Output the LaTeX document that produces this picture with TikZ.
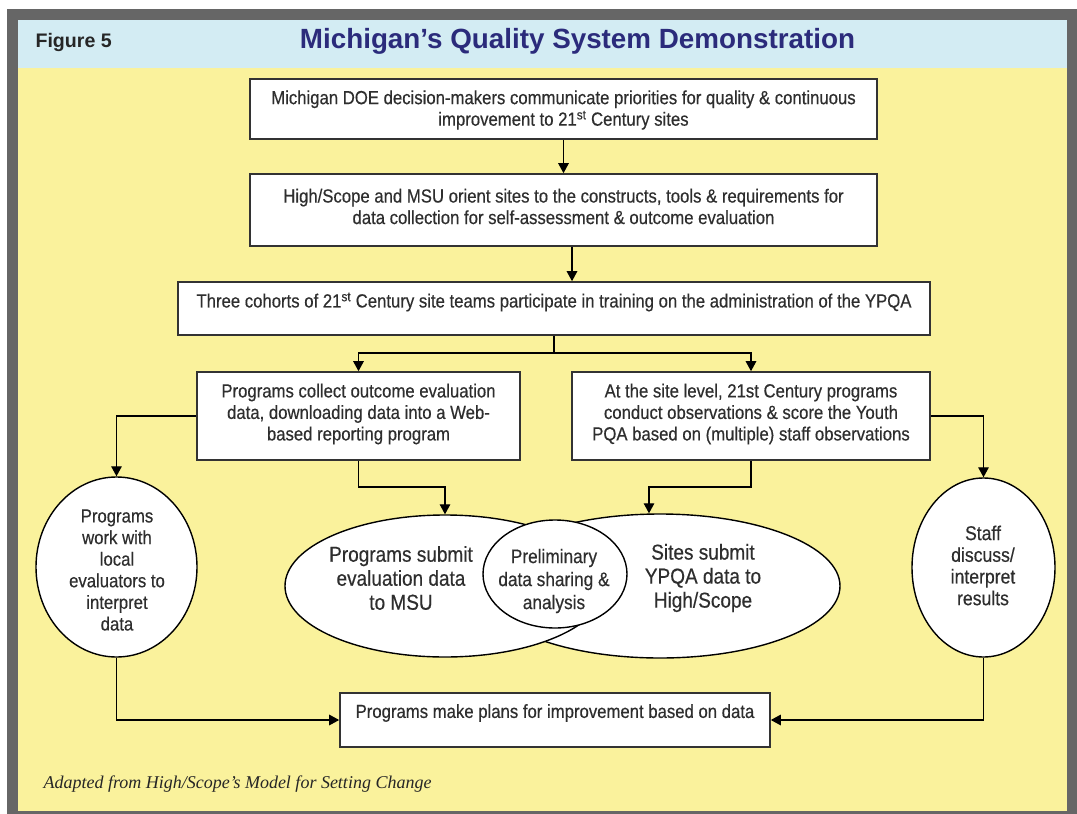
\documentclass[tikz,border=0pt]{standalone}
\usepackage{fontspec}
\setmainfont{Liberation Sans}
\newfontfamily\narrow[FakeStretch=0.88,FakeBold=0.4]{Liberation Sans}
\newfontfamily\serifit{Liberation Serif}
\usetikzlibrary{arrows.meta,shapes.geometric,calc}
\definecolor{framec}{HTML}{666666}
\definecolor{bluebg}{HTML}{D3ECF3}
\definecolor{yellowbg}{HTML}{FAF29C}
\definecolor{navy}{HTML}{2B2B7B}
\definecolor{txt}{HTML}{2E2E2E}
\definecolor{boxc}{HTML}{333333}
\tikzset{
  boxn/.style={draw=boxc, line width=1.6pt, fill=white, inner sep=0pt, rectangle},
  elln/.style={draw=black, line width=1.4pt, fill=white, inner sep=0pt, ellipse},
  btxt/.style={font=\narrow\fontsize{19}{21.5}\selectfont, text=txt, align=center, inner sep=0pt},
  etxt/.style={font=\narrow\fontsize{19}{21.6}\selectfont, text=txt, align=center, inner sep=0pt},
  ctxt/.style={font=\narrow\fontsize{19.6}{23}\selectfont, text=txt, align=center, inner sep=0pt},
  stxt/.style={font=\narrow\fontsize{20}{21.7}\selectfont, text=txt, align=center, inner sep=0pt},
  bigtxt/.style={font=\narrow\fontsize{21.6}{24}\selectfont, text=txt, align=center, inner sep=0pt},
  conn/.style={draw=black, line width=1.3pt},
  arr/.style={conn, -{Triangle[width=10.5pt,length=10pt]}}
}
\begin{document}
\begin{tikzpicture}[x=1pt,y=-1pt]
\useasboundingbox (0,0) rectangle (1077,814);
\fill[white] (0,0) rectangle (1077,814);
\fill[framec] (7,8.5) rectangle (1077,814);
\fill[bluebg] (18,20) rectangle (1067,68);
\fill[yellowbg] (18,68) rectangle (1067,811);

\node[anchor=base west, font=\bfseries\fontsize{19.6}{23}\selectfont, text=black!85] (fig) at (32,47) {Figure 5};
\node[anchor=base, font=\bfseries\fontsize{27.8}{32}\selectfont, text=navy] (title) at (577.5,48) {Michigan’s Quality System Demonstration};

% boxes
\node[boxn, minimum width=627pt, minimum height=60pt] (b1) at (563.5,109) {};
\node[boxn, minimum width=627pt, minimum height=72pt] (b2) at (563.5,210) {};
\node[boxn, minimum width=752pt, minimum height=53pt] (b3) at (554,308.5) {};
\node[boxn, minimum width=323pt, minimum height=88pt] (b4) at (358.5,416) {};
\node[boxn, minimum width=358pt, minimum height=88pt] (b5) at (751,416) {};
\node[boxn, minimum width=430pt, minimum height=54pt] (b6) at (555,720) {};

\node[btxt] (t1) at (563.5,110) {Michigan DOE decision-makers communicate priorities for quality \& continuous\\improvement to 21\textsuperscript{st} Century sites};
\node[btxt] (t2) at (563.5,206.5) {High/Scope and MSU orient sites to the constructs, tools \& requirements for\\data collection for self-assessment \& outcome evaluation};
\node[btxt] (t3) at (554,302) {Three cohorts of 21\textsuperscript{st} Century site teams participate in training on the administration of the YPQA};
\node[btxt] (t4) at (358.5,414) {Programs collect outcome evaluation\\data, downloading data into a Web-\\based reporting program};
\node[btxt] (t5) at (751,414) {At the site level, 21st Century programs\\conduct observations \& score the Youth\\PQA based on (multiple) staff observations};
\node[btxt] (t6) at (555,713) {Programs make plans for improvement based on data};

% ellipses
\node[elln, minimum width=161pt, minimum height=180pt] (e1) at (116.5,567) {};
\node[elln, minimum width=360pt, minimum height=144pt] (e3) at (660,586) {};
\node[elln, minimum width=320pt, minimum height=142pt] (e2) at (445,586) {};
\node[elln, minimum width=144pt, minimum height=108pt] (ec) at (555,574) {};
\node[elln, minimum width=143pt, minimum height=179pt] (es) at (983.5,567.5) {};

\node[etxt] (te1) at (117,570) {Programs\\work with\\local\\evaluators to\\interpret\\data};
\node[bigtxt] (te2) at (401,578) {Programs submit\\evaluation data\\to MSU};
\node[ctxt] (tec) at (554,581) {Preliminary\\data sharing \&\\analysis};
\node[bigtxt] (te3) at (703,578) {Sites submit\\YPQA data to\\High/Scope};
\node[stxt] (tes) at (983,565.5) {Staff\\discuss/\\interpret\\results};

% connectors
\draw[arr] (b1.south) -- (b2.north);
\draw[arr] ([xshift=8.5pt]b2.south) -- ([xshift=8.5pt]b2.south |- b3.north);
\coordinate (j3) at (554,353);
\draw[conn] (b3.south) -- (j3);
\draw[arr] (j3) -| (b4.north);
\draw[arr] (j3) -| (b5.north);
\draw[arr] (b4.west) -| (e1.north);
\coordinate (j4) at (358.5,487);
\coordinate (k4) at (445,487);
\draw[arr] (b4.south) -- (j4) -- (k4) -- (e2.north);
\coordinate (j5) at (751,487);
\coordinate (k5) at (649,487);
\draw[arr] (b5.south) -- (j5) -- (k5) -- (k5 |- e3.north);
\draw[arr] (b5.east) -| (es.north);
\draw[arr] (e1.south) |- (b6.west);
\draw[arr] (es.south) |- (b6.east);

\node[anchor=base west, font=\serifit\itshape\fontsize{18}{20}\selectfont, text=black!85] (foot) at (40,788) {Adapted from High/Scope’s Model for Setting Change};
\end{tikzpicture}
\end{document}
